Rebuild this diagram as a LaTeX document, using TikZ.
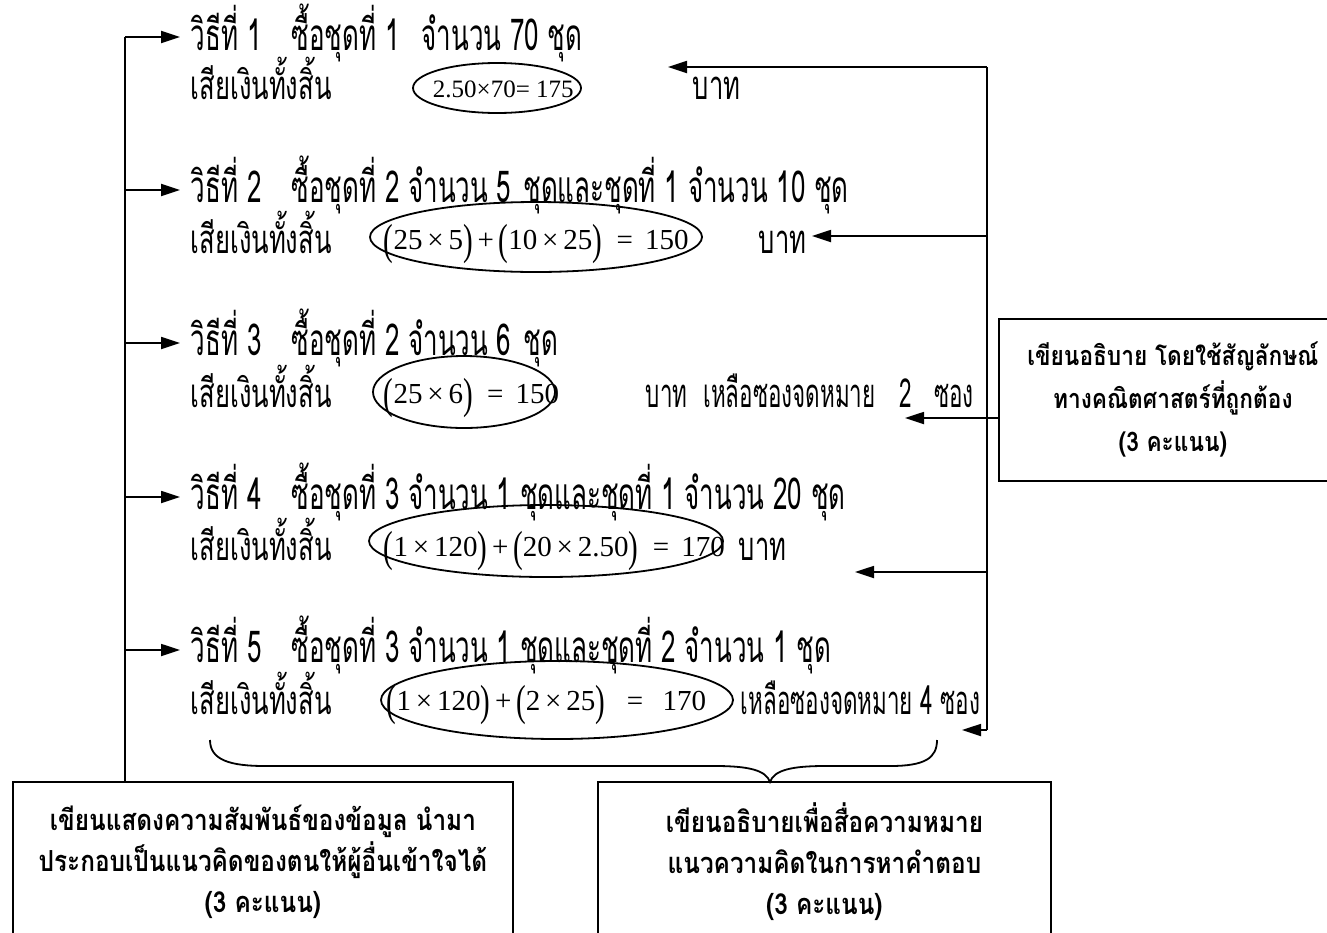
\documentclass[tikz,border=0pt]{standalone}
\usepackage{fontspec}
\usepackage{graphicx}
\usetikzlibrary{arrows.meta,shapes.geometric}
\newfontfamily\thaihead[Script=Thai,FakeStretch=0.59]{Loma}
\newfontfamily\thaisub[Script=Thai,FakeStretch=0.64]{Loma}
\newfontfamily\thaitail[Script=Thai,FakeStretch=0.56]{Loma}
\newfontfamily\thaibox[Script=Thai,FakeStretch=0.84]{Loma}
\newfontfamily\eqfont{Liberation Serif}
% tall parentheses for the sums
\newcommand\LP{\raisebox{-0.2em}{\scalebox{1}[1.5]{(}}}
\newcommand\RP{\raisebox{-0.2em}{\scalebox{1}[1.5]{)}}}
\begin{document}
\begin{tikzpicture}[x=1pt,y=-1pt,line width=1.8pt,
  arr/.style={-{Triangle[length=19pt,width=12pt]}},
  head/.style={anchor=base west,inner sep=0pt,font=\thaihead\fontsize{44}{48}\selectfont},
  sub/.style={anchor=base west,inner sep=0pt,font=\thaisub\fontsize{40}{44}\selectfont},
  tail/.style={anchor=base west,inner sep=0pt,font=\thaitail\fontsize{40}{44}\selectfont},
  eq/.style={anchor=base west,inner sep=0pt,font=\eqfont\fontsize{29}{30}\selectfont},
  ring/.style={draw,ellipse,inner sep=0pt},
  card/.style={draw,inner sep=0pt,align=center,anchor=north west,
    font=\thaibox\bfseries\fontsize{29}{41}\selectfont}]

\useasboundingbox (0,0) rectangle (1327,932);

% ---- method lines ----
\node[head] (h1) at (190,50) {วิธีที่ 1\hspace{30pt}ซื้อชุดที่ 1\hspace{22pt}จำนวน 70 ชุด};
\node[sub]  (s1) at (190,99) {เสียเงินทั้งสิ้น};
\node[eq,font=\eqfont\fontsize{25}{30}\selectfont] (e1) at (432,97) {2.50×70= 175};
\node[sub]  (b1) at (692,99) {บาท};

\node[head] (h2) at (190,202) {วิธีที่ 2\hspace{30pt}ซื้อชุดที่ 2 จำนวน 5\hspace{12pt}ชุดและชุดที่ 1 จำนวน 10 ชุด};
\node[sub]  (s2) at (190,253) {เสียเงินทั้งสิ้น};
\node[eq]   (e2) at (383,249) {\LP25\,×\,5\RP\,+\,\LP10\,×\,25\RP\ \ =\ \,150};
\node[sub]  (b2) at (758,253) {บาท};

\node[head] (h3) at (190,355) {วิธีที่ 3\hspace{30pt}ซื้อชุดที่ 2 จำนวน 6\hspace{12pt}ชุด};
\node[sub]  (s3) at (190,407) {เสียเงินทั้งสิ้น};
\node[eq]   (e3) at (383,403) {\LP25\,×\,6\RP\ \ =\ \,150};
\node[tail] (b3) at (645,407) {บาท\hspace{16pt}เหลือซองจดหมาย\hspace{24pt}2\hspace{22pt}ซอง};

\node[head] (h4) at (190,509) {วิธีที่ 4\hspace{30pt}ซื้อชุดที่ 3 จำนวน 1 ชุดและชุดที่ 1 จำนวน 20 ชุด};
\node[sub]  (s4) at (190,560) {เสียเงินทั้งสิ้น};
\node[eq]   (e4) at (383,556) {\LP1\,×\,120\RP\,+\,\LP20\,×\,2.50\RP\ \ =\ \,170};
\node[sub]  (b4) at (738,560) {บาท};

\node[head] (h5) at (190,662) {วิธีที่ 5\hspace{30pt}ซื้อชุดที่ 3 จำนวน 1 ชุดและชุดที่ 2 จำนวน 1 ชุด};
\node[sub]  (s5) at (190,714) {เสียเงินทั้งสิ้น};
\node[eq]   (e5) at (386,710) {\LP1\,×\,120\RP\,+\,\LP2\,×\,25\RP\ \ \ =\ \ \,170};
\node[tail] (b5) at (740,714) {เหลือซองจดหมาย 4 ซอง};

% ---- rings round the sums ----
\node[ring,minimum width=168pt,minimum height=50pt] (o1) at (497,88) {};
\node[ring,minimum width=332pt,minimum height=70pt] (o2) at (536,237) {};
\node[ring,minimum width=182pt,minimum height=72pt] (o3) at (464,392) {};
\node[ring,minimum width=354pt,minimum height=72pt] (o4) at (546,541) {};
\node[ring,minimum width=352pt,minimum height=78pt] (o5) at (557,700) {};

% ---- criteria boxes ----
\node[card,minimum width=348pt,minimum height=162pt,
  font=\thaibox\bfseries\fontsize{27}{43}\selectfont] (rbox) at (998,318)
  {เขียนอธิบาย โดยใช้สัญลักษณ์\\ทางคณิตศาสตร์ที่ถูกต้อง\\(3 คะแนน)};
\node[card,minimum width=500pt,minimum height=160pt] (lbox) at (12,781)
  {เขียนแสดงความสัมพันธ์ของข้อมูล นำมา\\ประกอบเป็นแนวคิดของตนให้ผู้อื่นเข้าใจได้\\(3 คะแนน)};
\node[card,minimum width=453pt,minimum height=160pt] (mbox) at (597,781)
  {เขียนอธิบายเพื่อสื่อความหมาย\\แนวความคิดในการหาคำตอบ\\(3 คะแนน)};

% ---- left spine with arrows to each method ----
\coordinate (sp) at (125,37);
\coordinate (t1) at (180,37);
\coordinate (t2) at (180,190);
\coordinate (t3) at (180,343);
\coordinate (t4) at (180,497);
\coordinate (t5) at (180,650);
\draw (sp) -- (sp |- lbox.north);
\foreach \k in {1,...,5} \draw[arr] (sp |- t\k) -- (t\k);

% ---- right spine with arrows to the sums ----
\coordinate (rt) at (987,67);
\coordinate (rb) at (987,730);
\coordinate (a1) at (668,67);
\coordinate (a2) at (812,236);
\coordinate (a3) at (905,418);
\coordinate (a4) at (855,572);
\coordinate (a5) at (962,730);
\draw (rt) -- (rb);
\draw[arr] (rt) -- (a1);
\draw[arr] (rt |- a2) -- (a2);
\draw[arr] (rbox.west |- a3) -- (a3);
\draw[arr] (rt |- a4) -- (a4);
\draw[arr] (rb) -- (a5);

% ---- brace under the five methods ----
\coordinate (bl) at (210,740);
\coordinate (bt) at (770,782);
\coordinate (br) at (937,740);
\draw (bl) .. controls (210,760) and (230,766) .. (265,766) -- (715,766)
  .. controls (748,766) and (766,770) .. (bt)
  .. controls (774,770) and (792,766) .. (825,766) -- (890,766)
  .. controls (925,766) and (937,758) .. (br);
\end{tikzpicture}
\end{document}
